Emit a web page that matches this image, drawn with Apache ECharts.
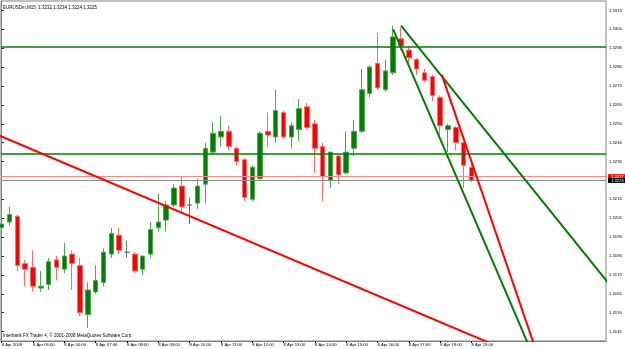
<!DOCTYPE html>
<html>
<head>
<meta charset="utf-8">
<script src="https://cdn.jsdelivr.net/npm/echarts@6/dist/echarts.min.js"></script>
<style>
html,body{margin:0;padding:0;background:#fff;}
#c{width:625px;height:349px;}
</style>
</head>
<body>
<div id="c"></div>
<script>
// ---- data (EURUSDm, M15, 8 Apr 2009 04:00 .. 19:00) ----
const symbolName = 'EURUSDm';
const timeframe = 'M15';
const copyright = 'Interbank FX Trader 4, \u00a9 2001-2008 MetaQuotes Software Corp.';

const open = [1.3200,1.3203,1.3206,1.3181,1.3179,1.3168,1.3170,1.3183,1.3178,1.3186,
  1.3180,1.3154,1.3166,1.3171,1.3186,1.3196,1.3187,1.3186,1.3178,1.3186,
  1.3200,1.3204,1.3212,1.3222,1.3212,1.3213,1.3223,1.3240,1.3248,1.3251,
  1.3242,1.3236,1.3215,1.3226,1.3251,1.3248,1.3261,1.3248,1.3252,1.3264,
  1.3255,1.3243,1.3225,1.3238,1.3229,1.3242,1.3251,1.3271,1.3287,1.3273,
  1.3282,1.3300,1.3294,1.3289,1.3282,1.3280,1.3269,1.3252,1.3253,1.3245,
  1.3232];
const high = [1.3208,1.3211,1.3207,1.3183,1.3188,1.3177,1.3184,1.3185,1.3192,1.3188,
  1.3184,1.3171,1.3180,1.3189,1.3200,1.3200,1.3193,1.3187,1.3185,1.3203,
  1.3218,1.3214,1.3223,1.3227,1.3216,1.3226,1.3245,1.3256,1.3259,1.3254,
  1.3243,1.3237,1.3233,1.3251,1.3261,1.3273,1.3262,1.3256,1.3268,1.3266,
  1.3257,1.3245,1.3240,1.3239,1.3251,1.3257,1.3284,1.3286,1.3303,1.3289,
  1.3307,1.3306,1.3296,1.3290,1.3284,1.3281,1.3270,1.3255,1.3254,1.3245,
  1.3234];
const low = [1.3199,1.3201,1.3177,1.3169,1.3166,1.3166,1.3167,1.3172,1.3176,1.3167,
  1.3153,1.3147,1.3165,1.3169,1.3184,1.3186,1.3184,1.3176,1.3175,1.3184,
  1.3198,1.3198,1.3211,1.3208,1.3202,1.3210,1.3213,1.3239,1.3243,1.3241,
  1.3233,1.3214,1.3214,1.3225,1.3243,1.3245,1.3247,1.3242,1.3246,1.3252,
  1.3229,1.3214,1.3221,1.3223,1.3228,1.3238,1.3250,1.3269,1.3273,1.3272,
  1.3281,1.3294,1.3286,1.3281,1.3277,1.3267,1.3248,1.3240,1.3241,1.3221,
  1.3224];
const close = [1.3202,1.3207,1.3180,1.3178,1.3169,1.3169,1.3182,1.3179,1.3185,1.3181,
  1.3155,1.3167,1.3172,1.3187,1.3197,1.3188,1.3187,1.3177,1.3185,1.3199,
  1.3203,1.3212,1.3221,1.3211,1.3212,1.3222,1.3242,1.3250,1.3251,1.3243,
  1.3235,1.3216,1.3232,1.3250,1.3249,1.3262,1.3248,1.3254,1.3263,1.3253,
  1.3242,1.3227,1.3240,1.3228,1.3240,1.3251,1.3273,1.3285,1.3274,1.3283,
  1.3301,1.3296,1.3290,1.3284,1.3278,1.3270,1.3254,1.3254,1.3245,1.3233,
  1.3225];

// time axis labels: one per hour (4 bars of M15)
const barsPerLabel = 4;
const xTickLabels = ['8 Apr 2009','8 Apr 05:00','8 Apr 06:00','8 Apr 07:00','8 Apr 08:00',
  '8 Apr 09:00','8 Apr 10:00','8 Apr 11:00','8 Apr 12:00','8 Apr 13:00','8 Apr 14:00',
  '8 Apr 15:00','8 Apr 16:00','8 Apr 17:00','8 Apr 18:00','8 Apr 19:00'];

// price scale labels
const yTickValues = [1.3145,1.3155,1.3165,1.3175,1.3185,1.3195,1.3205,1.3215,
  1.3235,1.3245,1.3255,1.3265,1.3275,1.3285,1.3295,1.3305,1.3315];
const yTickLabels = ['1.3145','1.3155','1.3165','1.3175','1.3185','1.3195','1.3205','1.3215',
  '1.3235','1.3246','1.3255','1.3265','1.3275','1.3286','1.3296','1.3305','1.3315'];

// drawn objects: [barIndex, price]
const redTrend   = [[-1, 1.3250], [64, 1.3136]];
const greenFanA  = [[51, 1.3307], [78, 1.3168]];
const greenFanB  = [[50, 1.3305], [68, 1.3131]];
const redSteep   = [[56.2, 1.3281], [68, 1.3138]];
const greenLevels = [1.3296, 1.3239];
const askPrice = 1.3227;

// ---- chart ----
const last = close.length - 1;
const bidPrice = close[last];
const f4 = v => v.toFixed(4);
const FONT = '"Liberation Sans", Arial, sans-serif';
const xTickBars = xTickLabels.map((_, k) => k * barsPerLabel);
const candles = open.map((o, i) => [i, o, close[i], low[i], high[i]]);

const GREEN = '#008000', RED = '#ff0000';
function lineSeries(data, color, width) {
  return { type: 'line', data: data, symbol: 'none', silent: true, z: 5,
    lineStyle: { color: color, width: width }, clip: true, animation: false };
}

const chart = echarts.init(document.getElementById('c'), null, { renderer: 'canvas' });
const levelLines = greenLevels.map(v => ({ yAxis: v, lineStyle: { color: GREEN, width: 1.6, type: 'solid' }, label: { show: false } }));

const option = {
  animation: false,
  backgroundColor: '#ffffff',
  title: [
    { text: symbolName + ',' + timeframe + '  ' + [open[last], high[last], low[last], close[last]].map(f4).join(' '),
      left: 3, top: 5, padding: 0,
      textStyle: { fontSize: 4.5, fontWeight: 'normal', color: '#000', fontFamily: FONT } },
    { text: copyright, left: 3, top: 333, padding: 0,
      textStyle: { fontSize: 4.5, fontWeight: 'normal', color: '#000', fontFamily: FONT } }
  ],
  grid: { left: 1, top: 1, right: 19, bottom: 8, show: true, borderColor: '#808080', borderWidth: 1,
    backgroundColor: 'transparent', outerBoundsMode: 'none', containLabel: false },
  xAxis: {
    type: 'value', min: -0.09, max: 77.18,
    axisLine: { show: true, onZero: false, lineStyle: { color: '#808080', width: 1 } },
    splitLine: { show: false },
    axisTick: { show: true, customValues: xTickBars, length: 2, lineStyle: { color: '#000' } },
    axisLabel: { show: true, customValues: xTickBars, align: 'left', margin: 2,
      formatter: v => xTickLabels[Math.round(v / barsPerLabel)],
      fontSize: 4.2, color: '#000', fontFamily: FONT }
  },
  yAxis: {
    type: 'value', position: 'right', min: 1.3140, max: 1.3320, scale: true,
    axisLine: { show: true, lineStyle: { color: '#808080', width: 1 } },
    splitLine: { show: false },
    axisTick: { show: true, customValues: yTickValues, length: 2, lineStyle: { color: '#000' } },
    axisLabel: { show: true, customValues: yTickValues, margin: 3, align: 'left',
      formatter: v => { const k = yTickValues.findIndex(t => Math.abs(t - v) < 1e-7); return k >= 0 ? yTickLabels[k] : ''; },
      fontSize: 4.2, color: '#000', fontFamily: FONT }
  },
  series: [
    {
      type: 'candlestick', data: candles, encode: { x: 0, y: [1, 2, 3, 4] },
      barWidth: 5, clip: true, silent: true, z: 2,
      itemStyle: { color: GREEN, color0: RED, borderColor: '#4fa84f', borderColor0: '#ff6a6a',
        borderColorDoji: '#707070', borderWidth: 1 }
    },
    Object.assign(lineSeries(redTrend, RED, 2), {
      markLine: {
        silent: true, symbol: ['none', 'none'], animation: false, precision: 6,
        data: levelLines.concat([
          { yAxis: askPrice, lineStyle: { color: '#f28a8a', width: 1, type: 'solid' },
            label: { show: true, position: 'end', distance: 2, formatter: () => f4(askPrice),
              backgroundColor: RED, color: '#fff', fontSize: 4.2, fontFamily: FONT, padding: [1, 3, 0, 3] } },
          { yAxis: bidPrice, lineStyle: { color: '#8c8c8c', width: 1, type: 'solid' },
            label: { show: true, position: 'end', distance: 2, formatter: () => f4(bidPrice),
              backgroundColor: '#000', color: '#fff', fontSize: 4.2, fontFamily: FONT, padding: [1, 3, 0, 3] } }
        ])
      }
    }),
    lineSeries(greenFanA, GREEN, 2),
    lineSeries(greenFanB, GREEN, 2),
    lineSeries(redSteep, RED, 2)
  ]
};
chart.setOption(option);
</script>
</body>
</html>
